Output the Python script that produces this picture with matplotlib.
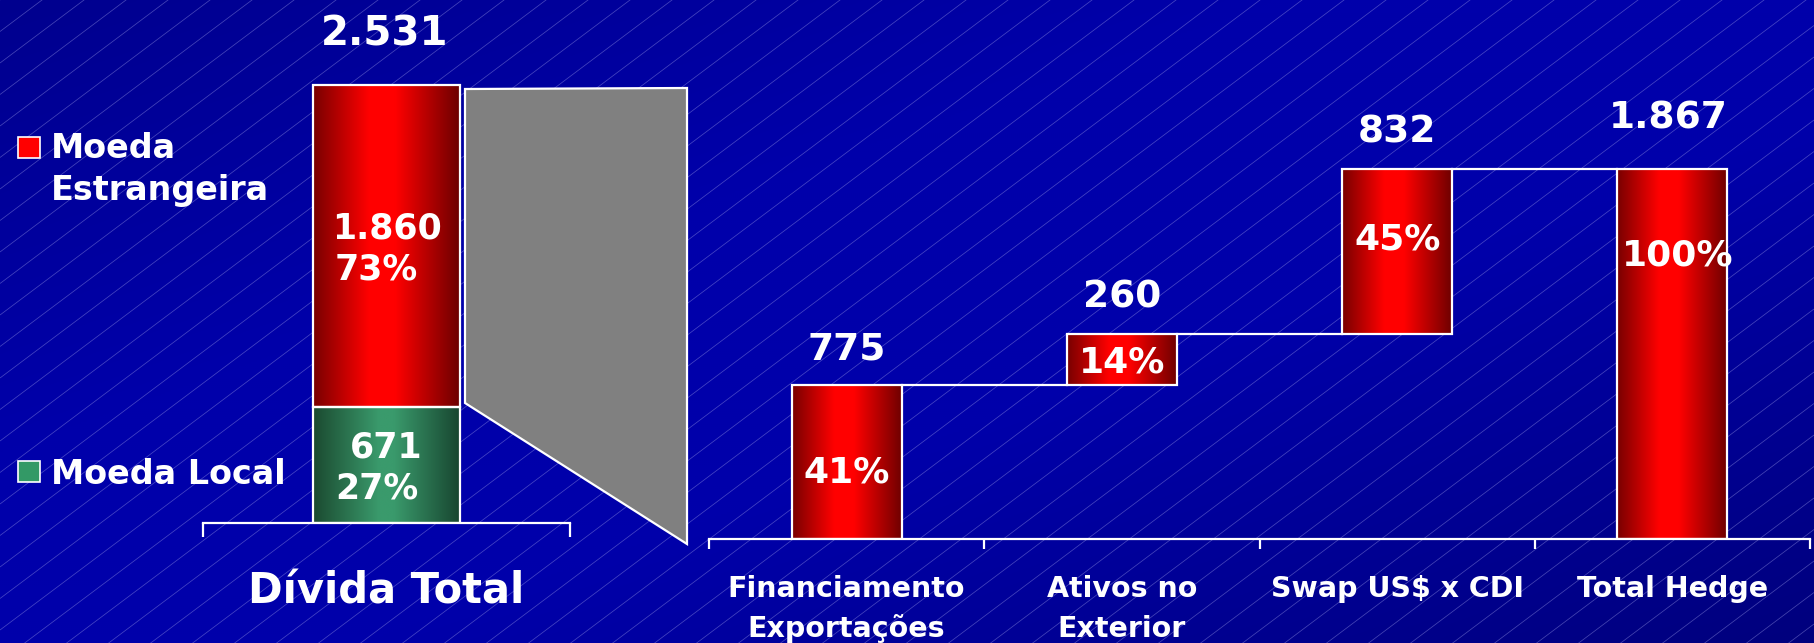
import numpy as np
import matplotlib
matplotlib.use('Agg')
import matplotlib.pyplot as plt
from matplotlib.colors import LinearSegmentedColormap
from matplotlib.patches import Polygon, Rectangle
from matplotlib.collections import LineCollection

# ---------------- data ----------------
debt_category = 'Dívida Total'
debt_series = ['Moeda Local', 'Moeda Estrangeira']
debt_values = [671, 1860]
debt_pct = [27, 73]
debt_total = 2531

hedge_categories = ['Financiamento\nExportações', 'Ativos no\nExterior',
                    'Swap US$ x CDI', 'Total Hedge']
hedge_values = [775, 260, 832, 1867]
hedge_pct = [41, 14, 45, 100]
hedge_is_total = [False, False, False, True]

# ---------------- layout / style ----------------
W, H, DPI = 1814, 643, 100
plt.rcParams['font.family'] = ['DejaVu Sans']
plt.rcParams['font.weight'] = 'bold'
WHITE = 'white'
red_cmap = LinearSegmentedColormap.from_list(
    'r', [(0, '#780000'), (0.38, '#ff0000'), (0.56, '#ff0000'), (1, '#6c0000')])
green_cmap = LinearSegmentedColormap.from_list(
    'g', [(0, '#1b4a30'), (0.45, '#3a9a6c'), (0.55, '#3a9a6c'), (1, '#184630')])
pct_label_frac = [0.37, 0.25, 0.51, 0.74]


def fmt(v):
    return f'{v:,}'.replace(',', '.')


fig = plt.figure(figsize=(W / DPI, H / DPI), dpi=DPI)

# background: blue gradient with thin diagonal lines
bg = fig.add_axes([0, 0, 1, 1], zorder=-10)
bg.set_xlim(0, W)
bg.set_ylim(H, 0)
bg.axis('off')
yy, xx = np.mgrid[0:H:2, 0:W:2]
u = (xx / W + yy / H) / 2
b = (170 - 28 * np.clip((0.35 - u) / 0.35, 0, 1)
     - 45 * np.clip((u - 0.6) / 0.4, 0, 1)) / 255.0
img = np.dstack([np.zeros_like(b), np.zeros_like(b), b])
bg.imshow(img, extent=(0, W, H, 0), aspect='auto', interpolation='bilinear', zorder=0)
slope = 0.75
spacing = 42
segs = []
for c in np.arange(0, H + slope * W + spacing * slope, spacing * slope):
    segs.append([(0, c), (W, c - slope * W)])
bg.add_collection(LineCollection(segs, colors=[(0.6, 0.6, 0.9)], linewidths=0.55,
                                 alpha=0.45, zorder=1))
bg.set_xlim(0, W)
bg.set_ylim(H, 0)

# grey connector shape
bg.add_patch(Polygon([(465, 89), (687, 88), (687, 544), (465, 403)], closed=True,
                     facecolor='#808080', edgecolor=WHITE, lw=1.6, zorder=2))

# legend
leg_colors = ['#339966', '#ff0000']
leg_y = [461, 137]
leg_text_base = [484, 158]
leg_lines = [[debt_series[0]], debt_series[1].split(' ')]
for lines, c, y0, yb in zip(leg_lines, leg_colors, leg_y, leg_text_base):
    bg.add_patch(Rectangle((18, y0), 22, 21, facecolor=c, edgecolor=WHITE, lw=1.2, zorder=3))
    for k, ln in enumerate(lines):
        bg.text(51, yb + 42 * k, ln, color=WHITE, fontsize=24, fontweight='bold',
                ha='left', va='baseline', zorder=3)


def gradient_fill(ax, patch, cmap):
    x0, y0 = patch.get_x(), patch.get_y()
    w, h = patch.get_width(), patch.get_height()
    im = ax.imshow(np.linspace(0, 1, 256).reshape(1, -1), cmap=cmap,
                   extent=(x0, x0 + w, y0, y0 + h), aspect='auto',
                   interpolation='bilinear', zorder=2)
    im.set_clip_path(patch)


# ---------------- left chart: total debt ----------------
axL = fig.add_axes([203 / W, 1 - 523 / H, (570 - 203) / W, 523 / H])
axL.patch.set_alpha(0)
bottoms = np.concatenate([[0], np.cumsum(debt_values)[:-1]])
cmaps = [green_cmap, red_cmap]
for v, btm, cm, p in zip(debt_values, bottoms, cmaps, debt_pct):
    bar = axL.bar(0, v, bottom=btm, width=0.4, facecolor='none', edgecolor=WHITE,
                  linewidth=1.6, zorder=3)[0]
    gradient_fill(axL, bar, cm)
    yc = btm + v / 2
    axL.annotate(fmt(v), xy=(0, yc), xytext=(0, 7), textcoords='offset pixels',
                 ha='center', va='baseline', color=WHITE, fontsize=25, fontweight='bold',
                 zorder=4)
    axL.annotate(f'{p}%', xy=(0, yc), xytext=(-10, -34), textcoords='offset pixels',
                 ha='center', va='baseline', color=WHITE, fontsize=25, fontweight='bold',
                 zorder=4)
axL.annotate(fmt(debt_total), xy=(0, debt_total), xytext=(-2, 39), textcoords='offset pixels',
             ha='center', va='baseline', color=WHITE, fontsize=29, fontweight='bold')
axL.annotate(debt_category, xy=(0, 0), xytext=(0, -81), textcoords='offset pixels',
             ha='center', va='baseline', color=WHITE, fontsize=30, fontweight='bold',
             annotation_clip=False)
axL.set_xlim(-0.5, 0.5)
axL.set_ylim(0, 523 / 0.17325)
for s in ['top', 'left', 'right']:
    axL.spines[s].set_visible(False)
axL.spines['bottom'].set_color(WHITE)
axL.spines['bottom'].set_linewidth(1.6)
axL.set_xticks([-0.5, 0.5])
axL.tick_params(axis='x', colors=WHITE, length=10, width=1.6, direction='out',
                labelbottom=False)
axL.yaxis.set_visible(False)

# ---------------- right chart: hedge waterfall ----------------
axR = fig.add_axes([709 / W, 1 - 539 / H, (1810 - 709) / W, 539 / H])
axR.patch.set_alpha(0)
x = np.arange(len(hedge_categories))
btms = []
running = 0
for v, tot in zip(hedge_values, hedge_is_total):
    if tot:
        btms.append(0)
    else:
        btms.append(running)
        running += v
tops = [b_ + v for b_, v in zip(btms, hedge_values)]
bw = 0.4
for i, (v, btm, p, tot, fr) in enumerate(zip(hedge_values, btms, hedge_pct,
                                              hedge_is_total, pct_label_frac)):
    bar = axR.bar(x[i], v, bottom=btm, width=bw, facecolor='none', edgecolor=WHITE,
                  linewidth=1.6, zorder=3)[0]
    gradient_fill(axR, bar, red_cmap)
    axR.annotate(fmt(v), xy=(x[i], btm + v), xytext=(-4 if tot else 0, 40 if tot else 26),
                 textcoords='offset pixels', ha='center', va='baseline', color=WHITE,
                 fontsize=27, fontweight='bold')
    axR.text(x[i] + (0.02 if tot else 0), btm + fr * v, f'{p}%', ha='center', va='baseline',
             color=WHITE, fontsize=26, fontweight='bold', zorder=4)
for i in range(len(hedge_values) - 1):
    axR.plot([x[i] + bw / 2, x[i + 1] - bw / 2], [tops[i], tops[i]], color=WHITE,
             lw=1.6, zorder=3)
for i, lab in enumerate(hedge_categories):
    for k, ln in enumerate(lab.split('\n')):
        axR.annotate(ln, xy=(x[i], 0), xytext=(0, -58 - 40 * k), textcoords='offset pixels',
                     ha='center', va='baseline', color=WHITE, fontsize=20.5,
                     fontweight='bold', annotation_clip=False)
axR.set_xlim(-0.5, len(hedge_categories) - 0.5)
axR.set_ylim(0, 539 / 0.19818)
for s in ['top', 'left', 'right']:
    axR.spines[s].set_visible(False)
axR.spines['bottom'].set_color(WHITE)
axR.spines['bottom'].set_linewidth(1.6)
axR.set_xticks(np.arange(-0.5, len(hedge_categories), 1))
axR.tick_params(axis='x', colors=WHITE, length=7.5, width=1.6, direction='out',
                labelbottom=False)
axR.yaxis.set_visible(False)

fig.savefig('out.png', dpi=DPI)
